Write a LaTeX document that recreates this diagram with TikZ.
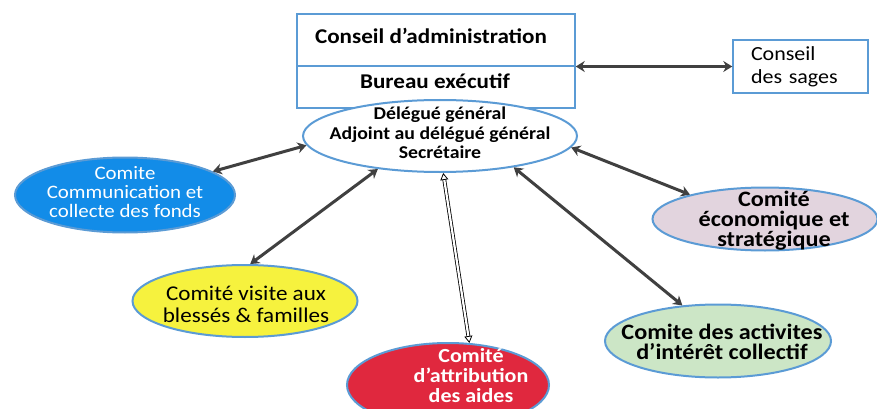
\documentclass[tikz,border=0pt]{standalone}
\usepackage{fontspec}
\setmainfont{Carlito}[FakeStretch=1.1]
\usetikzlibrary{shapes.geometric,arrows.meta}
\definecolor{edgeblue}{RGB}{91,155,213}
\definecolor{arrowgray}{RGB}{64,64,64}
\definecolor{comblue}{RGB}{18,140,232}
\definecolor{comyellow}{RGB}{246,242,62}
\definecolor{comred}{RGB}{224,40,62}
\definecolor{comgreen}{RGB}{204,230,198}
\definecolor{compink}{RGB}{226,212,222}
\tikzset{
  comite/.style={ellipse, draw=edgeblue, line width=2pt, inner sep=0pt},
  txt/.style={inner sep=0pt, align=center},
  cadre/.style={rectangle, draw=edgeblue, line width=1.5pt, fill=white, inner sep=0pt},
  lien/.style={arrowgray, line width=3pt, {Stealth[length=9pt,width=11pt]}-{Stealth[length=9pt,width=11pt]}},
}
\begin{document}
\begin{tikzpicture}[x=1pt,y=-1pt]
		\useasboundingbox (0,0) rectangle (877,409);
		\coordinate (CA) at (436,40);
		\coordinate (BE) at (436,87);
		\coordinate (C) at (440,136);
		\node[cadre, minimum width=278pt, minimum height=52pt] (ca) at (CA) {};
		\node[cadre, minimum width=278pt, minimum height=42pt] (be) at (BE) {};
		\node[txt, font=\fontsize{21}{23}\selectfont\bfseries] (ca-t) at (431,36) {Conseil d'administration};
		\node[txt, font=\fontsize{21}{23}\selectfont\bfseries] (be-t) at (435,81) {Bureau exécutif};
		\node[cadre, minimum width=135pt, minimum height=53pt, align=left, text width=99pt, font=\fontsize{20}{23}\selectfont] (sages) at (800.5,66.5) {Conseil\\des sages};
		\node[comite, fill=white, minimum width=274pt, minimum height=72pt] (cen) at (C) {};
		\node[comite, fill=comblue, minimum width=220pt, minimum height=75pt] (fonds) at (125,195) {};
		\node[comite, fill=comyellow, minimum width=225pt, minimum height=72pt] (visite) at (245,301) {};
		\node[comite, fill=comred, minimum width=202pt, minimum height=84pt] (aides) at (448,385) {};
		\node[comite, fill=comgreen, minimum width=226pt, minimum height=73pt] (activ) at (718,341) {};
		\node[comite, fill=compink, minimum width=225pt, minimum height=63pt] (eco) at (765,219) {};
		\node[txt, font=\fontsize{18}{19.5}\selectfont\bfseries] (cen-t) at (440,133) {Délégué général\\Adjoint au délégué général\\Secrétaire};
		\node[txt, text=white, font=\fontsize{19}{19}\selectfont] (fonds-t) at (125,192) {Comite\\Communication et\\collecte des fonds};
		\node[txt, font=\fontsize{21}{22}\selectfont] (visite-t) at (246,304) {Comité visite aux\\blessés \& familles};
		\node[txt, text=white, font=\fontsize{20}{20}\selectfont\bfseries] (aides-t) at (471,376) {Comité\\d'attribution\\des aides};
		\node[txt, font=\fontsize{22}{20}\selectfont\bfseries] (activ-t) at (722,342) {Comite des activites\\d'intérêt collectif};
		\node[txt, font=\fontsize{22}{20}\selectfont\bfseries] (eco-t) at (774,221) {Comité\\économique et\\stratégique};
		\draw[lien] (be.east |- sages.west) -- (sages.west);
		\draw[lien] (fonds.15) -- (cen.184);
		\draw[lien] (visite.82) -- (cen.208);
		\draw[lien] (cen.355) -- (eco.162);
		\draw[lien] (cen.337) -- (activ.135);
		\draw[black, line width=0.8pt, double=white, double distance=2.2pt, {Triangle[open,length=7pt,width=8pt]}-{Triangle[open,length=7pt,width=8pt]}] (cen.275) -- (aides.63);
	\end{tikzpicture}
\end{document}
